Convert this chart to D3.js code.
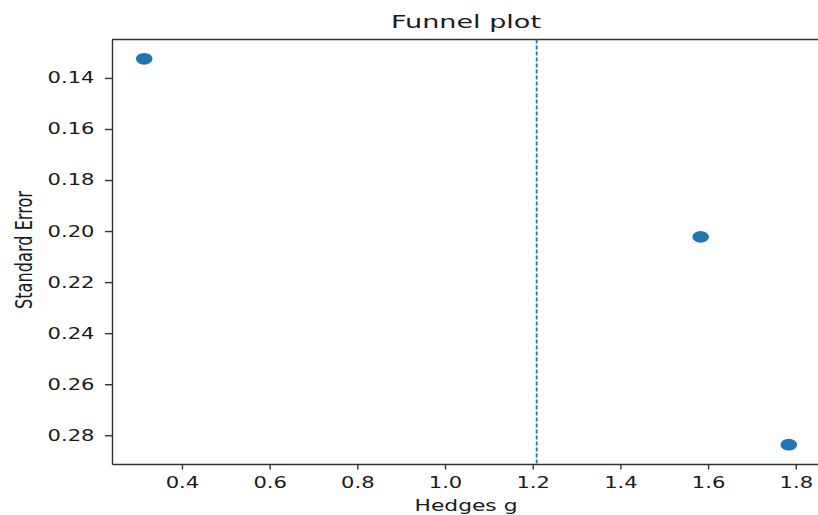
<!DOCTYPE html>
<html>
<head>
<meta charset="utf-8">
<script src="https://cdn.jsdelivr.net/npm/d3@7"></script>
<style>
  body { margin: 0; background: #fff; }
  text { font-family: "DejaVu Sans", sans-serif; fill: #1a1a1a; }
</style>
</head>
<body>
<div id="chart"></div>
<script>
// Study effects (Hedges g) and their standard errors
const hedgesG = [0.314, 1.583, 1.784];
const stdErr = [0.1325, 0.2023, 0.2837];
const pooledEffect = 1.209;

const xTicks = [0.4, 0.6, 0.8, 1.0, 1.2, 1.4, 1.6, 1.8];
const yTicks = [0.14, 0.16, 0.18, 0.20, 0.22, 0.24, 0.26, 0.28];

const width = 818;
const height = 515;
const margin = { top: 39.5, right: -3, bottom: 51, left: 112 };
const stretch = 1.36; // text in the picture is stretched horizontally

const svg = d3.select("#chart")
    .append("svg")
    .attr("width", width)
    .attr("height", height);

// matplotlib-style 5% padding on each side
const pad = (lo, hi) => [lo - (hi - lo) * 0.05, hi + (hi - lo) * 0.05];

const xScale = d3.scaleLinear()
    .domain(pad(d3.min(hedgesG), d3.max(hedgesG)))
    .range([margin.left, width - margin.right]);

// y axis inverted: small standard errors at the top
const yScale = d3.scaleLinear()
    .domain(pad(d3.min(stdErr), d3.max(stdErr)))
    .range([margin.top, height - margin.bottom]);

const spineColor = "#333";

// x axis
const xAxis = svg.append("g")
    .attr("transform", `translate(0, ${height - margin.bottom})`)
    .call(d3.axisBottom(xScale).tickValues(xTicks).tickFormat(d3.format(".1f"))
        .tickSize(5.5).tickPadding(7.5).tickSizeOuter(0));
xAxis.select(".domain").attr("stroke", spineColor).attr("stroke-width", 1.4);
xAxis.selectAll(".tick line").attr("stroke", spineColor).attr("stroke-width", 1.4);
xAxis.selectAll(".tick text")
    .attr("font-size", 15.5)
    .attr("font-family", "DejaVu Sans")
    .attr("fill", "#1a1a1a")
    .attr("transform", `scale(${stretch},1)`);

// y axis
const yAxis = svg.append("g")
    .attr("transform", `translate(${margin.left}, 0)`)
    .call(d3.axisLeft(yScale).tickValues(yTicks).tickFormat(d3.format(".2f"))
        .tickSize(7).tickPadding(10).tickSizeOuter(0));
yAxis.select(".domain").attr("stroke", spineColor).attr("stroke-width", 1.4);
yAxis.selectAll(".tick line").attr("stroke", spineColor).attr("stroke-width", 1.4);
yAxis.selectAll(".tick text")
    .attr("font-size", 15.5)
    .attr("font-family", "DejaVu Sans")
    .attr("fill", "#1a1a1a")
    .attr("x", -17.5 / stretch)
    .attr("transform", `scale(${stretch},1)`);

// top and right spines
svg.append("line")
    .attr("x1", margin.left).attr("x2", width - margin.right)
    .attr("y1", margin.top).attr("y2", margin.top)
    .attr("stroke", spineColor).attr("stroke-width", 1.4);
svg.append("line")
    .attr("x1", width - margin.right).attr("x2", width - margin.right)
    .attr("y1", margin.top).attr("y2", height - margin.bottom)
    .attr("stroke", spineColor).attr("stroke-width", 1.4);

// pooled effect line
svg.append("line")
    .attr("x1", xScale(pooledEffect)).attr("x2", xScale(pooledEffect))
    .attr("y1", margin.top).attr("y2", height - margin.bottom)
    .attr("stroke", "#1f77b4")
    .attr("stroke-width", 1.8)
    .attr("stroke-dasharray", "4,2");

// points
svg.selectAll(".study")
    .data(hedgesG.map((g, i) => ({ g, se: stdErr[i] })))
    .enter()
    .append("ellipse")
    .attr("class", "study")
    .attr("cx", d => xScale(d.g))
    .attr("cy", d => yScale(d.se))
    .attr("rx", 8.3)
    .attr("ry", 5.9)
    .attr("fill", "#1f77b4");

// title
svg.append("text")
    .attr("x", 466)
    .attr("y", 28)
    .attr("text-anchor", "middle")
    .attr("font-size", 18)
    .attr("textLength", 150)
    .attr("lengthAdjust", "spacingAndGlyphs")
    .text("Funnel plot");

// x label
svg.append("text")
    .attr("x", 466)
    .attr("y", 511)
    .attr("text-anchor", "middle")
    .attr("font-size", 15)
    .attr("textLength", 103)
    .attr("lengthAdjust", "spacingAndGlyphs")
    .text("Hedges g");

// y label (narrow, stretched across)
svg.append("text")
    .attr("transform", "translate(32, 250) rotate(-90) scale(1, 1.4)")
    .attr("text-anchor", "middle")
    .attr("font-size", 16)
    .attr("textLength", 118)
    .attr("lengthAdjust", "spacingAndGlyphs")
    .text("Standard Error");
</script>
</body>
</html>
